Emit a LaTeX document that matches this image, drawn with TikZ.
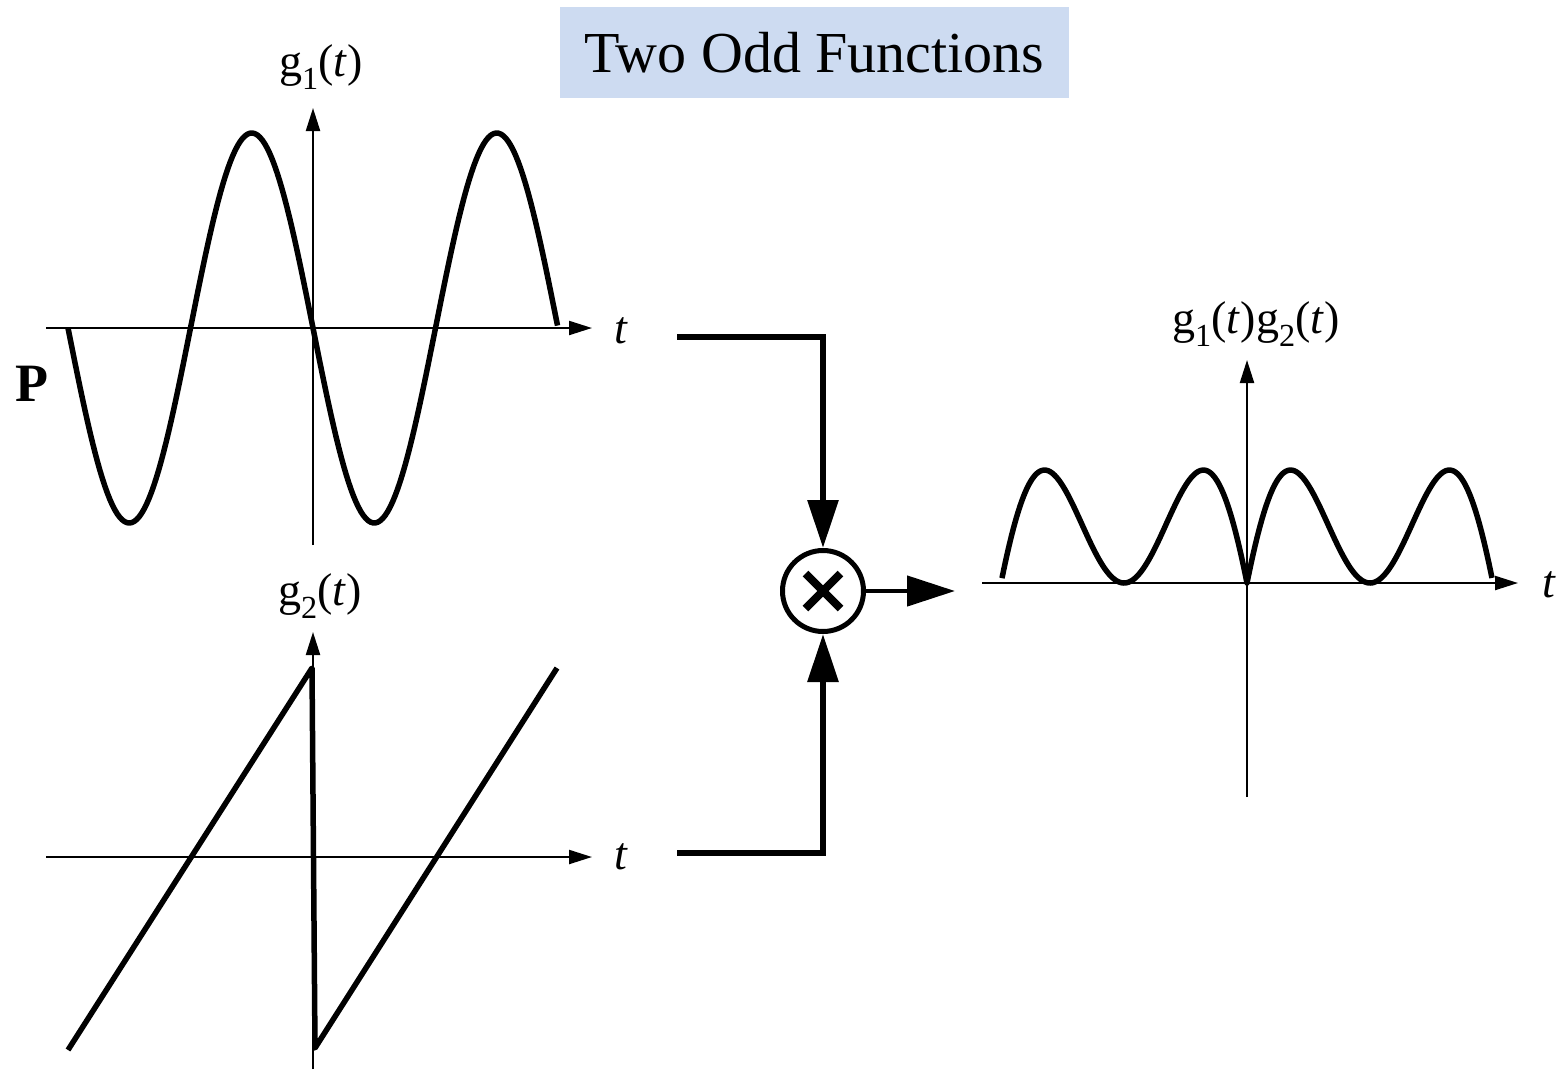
\documentclass[tikz,border=0pt]{standalone}
\usepackage{fontspec}
\setmainfont{Liberation Serif}
\usetikzlibrary{arrows.meta}
\definecolor{titlebg}{RGB}{205,219,241}
\begin{document}
\begin{tikzpicture}[x=1pt,y=-1pt,
  axis/.style={line width=2.2pt,-{Triangle[length=23pt,width=14pt]}},
  curve/.style={line width=5.5pt,line join=round},
  conn/.style={line width=6pt,-{Triangle[length=48pt,width=30pt]}},
  lbl/.style={font=\fontsize{46}{50}\selectfont, inner sep=0pt},
  ]
\useasboundingbox (0,0) rectangle (1558,1069);
% title
\node[fill=titlebg, minimum width=509pt, minimum height=91pt, inner sep=0pt,
      font=\fontsize{58}{60}\selectfont] (title) at (814.5,52.5) {Two Odd Functions};
% top plot g1
\draw[axis] (46,328) -- (592,328);
\draw[axis] (313,545) -- (313,108);
\draw[curve] plot[domain=-1:1,samples=200] ({313+245*\x},{328+195*sin(360*\x)});
% bottom plot g2
\draw[axis] (46,857) -- (592,857);
\draw[axis] (313,1069) -- (313,632);
\draw[curve] (68,1050) -- (312,668) -- (315,1048) -- (557,668);
% right plot product
\draw[axis] (982,583) -- (1518,583);
\draw[axis] (1247,797) -- (1247,360);
\draw[curve] plot[domain=-0.996:0,samples=150] ({1247+246*\x},{583-390*(\x+0.5)*(-sin(360*\x))})
  -- plot[domain=0:0.996,samples=150] ({1247+246*\x},{583-390*(\x-0.5)*(-sin(360*\x))});
% multiplier
\node[circle, draw, line width=5pt, minimum size=81pt, inner sep=0pt] (mult) at (823,591) {};
\draw[line width=8pt] (mult.center) +(-17.5,-17.5) -- +(17.5,17.5);
\draw[line width=8pt] (mult.center) +(-17.5,17.5) -- +(17.5,-17.5);
\coordinate (c1) at (677,337);
\coordinate (c2) at (677,853);
\coordinate (out) at (955,591);
\draw[conn] (c1) -| (mult.north);
\draw[conn] (c2) -| (mult.south);
\draw[line width=4.5pt,-{Triangle[length=48pt,width=30pt]}] (mult.east) -- (out);
% labels
\node[lbl] (g1) at (321,67) {g\textsubscript{1}(\textit{t})};
\node[lbl] (t1) at (621,331) {\textit{t}};
\node[lbl] (g2) at (320,596) {g\textsubscript{2}(\textit{t})};
\node[lbl] (t2) at (621,857) {\textit{t}};
\node[lbl] (g12) at (1256,324) {g\textsubscript{1}(\textit{t})g\textsubscript{2}(\textit{t})};
\node[lbl] (t3) at (1549,585) {\textit{t}};
\node[inner sep=0pt, font=\fontsize{54}{56}\selectfont\bfseries] (P) at (32,384) {P};
\end{tikzpicture}
\end{document}
